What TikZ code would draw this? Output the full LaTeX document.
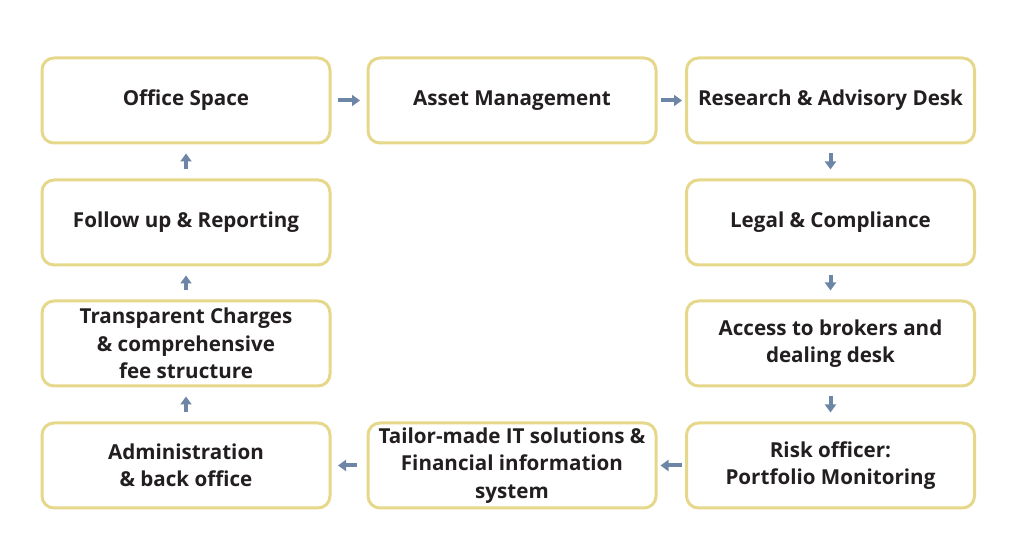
\documentclass[tikz,border=0pt]{standalone}
\usepackage{fontspec}
\setmainfont{Open Sans}
\usetikzlibrary{arrows.meta}
\definecolor{boxline}{HTML}{E6D88A}
\definecolor{flowblue}{HTML}{6E86A5}
\definecolor{inktext}{HTML}{231F20}
\tikzset{
  stepbox/.style={draw=boxline, line width=1.5pt, rounded corners=6pt, fill=white,
    minimum width=144pt, minimum height=42.5pt, align=center, text=inktext,
    font=\fontsize{10.3}{13.75}\selectfont\bfseries, inner sep=2pt},
  flow/.style={draw=flowblue, line width=2pt, -{Triangle[length=4pt,width=5.5pt]}}
}
\begin{document}
\begin{tikzpicture}[x=0.5pt,y=-0.5pt]
      \useasboundingbox (0,0) rectangle (1024,560);
      \draw
        (186,100.5) node[stepbox] (0){Office Space}
        (512,100.5) node[stepbox] (1){Asset Management}
        (830.5,100.5) node[stepbox] (2){Research \& Advisory Desk}
        (830.5,222.5) node[stepbox] (3){Legal \& Compliance}
        (830.5,343.5) node[stepbox] (4){Access to brokers and\\dealing desk}
        (830.5,465.5) node[stepbox] (5){Risk officer:\\Portfolio Monitoring}
        (512,465.5) node[stepbox] (6){Tailor-made IT solutions \&\\Financial information\\system}
        (186,465.5) node[stepbox] (7){Administration\\\& back office}
        (186,343.5) node[stepbox] (8){Transparent Charges\\\& comprehensive\\fee structure}
        (186,222.5) node[stepbox] (9){Follow up \& Reporting};
      \begin{scope}[flow, shorten <=3.25pt, shorten >=3.25pt]
        \draw (0) to (1);
        \draw[shorten <=1.5pt, shorten >=1.5pt] (1) to (2);
        \draw[shorten <=4.5pt, shorten >=4.5pt] (2) to (3);
        \draw[shorten <=4.5pt, shorten >=4.5pt] (3) to (4);
        \draw[shorten <=4.5pt, shorten >=4.5pt] (4) to (5);
        \draw[shorten <=1.5pt, shorten >=1.5pt] (5) to (6);
        \draw[shorten <=5pt, shorten >=3.25pt] (6) to (7);
        \draw[shorten <=4.5pt, shorten >=4.5pt] (7) to (8);
        \draw[shorten <=4.5pt, shorten >=4.5pt] (8) to (9);
        \draw[shorten <=4.5pt, shorten >=4.5pt] (9) to (0);
      \end{scope}
    \end{tikzpicture}
\end{document}
